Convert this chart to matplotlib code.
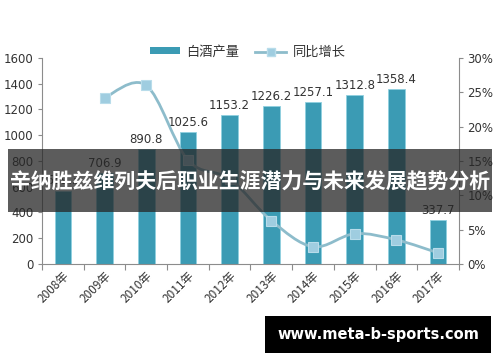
import matplotlib
matplotlib.use("Agg")
import matplotlib.pyplot as plt
from matplotlib.path import Path
from matplotlib.patches import PathPatch, Rectangle
from matplotlib.lines import Line2D
import numpy as np

plt.rcParams['font.family'] = ['Noto Sans CJK SC', 'DejaVu Sans']

years = ['2008年', '2009年', '2010年', '2011年', '2012年', '2013年', '2014年', '2015年', '2016年', '2017年']
production = [569.3, 706.9, 890.8, 1025.6, 1153.2, 1226.2, 1257.1, 1312.8, 1358.4, 337.7]
growth_years_idx = [1, 2, 3, 4, 5, 6, 7, 8, 9]
growth = [24.2, 26.0, 15.1, 12.4, 6.3, 2.5, 4.4, 3.5, 1.6]

title = '辛纳胜兹维列夫后职业生涯潜力与未来发展趋势分析'
watermark = 'www.meta-b-sports.com'

bar_color = '#3b9bb4'
line_color = '#8dbccb'
marker_color = '#9fcde0'
text_color = '#333333'
axis_color = '#8c8c8c'

fig = plt.figure(figsize=(5, 3.62), dpi=100)
ax = fig.add_axes([0.084, 0.271, 0.834, 0.569])
ax2 = ax.twinx()

x = np.arange(len(years))
ax.bar(x, production, width=0.4, color=bar_color, edgecolor='#8fd0e0', linewidth=0.6, zorder=2)
for xi, v in zip(x, production):
    ax.text(xi, v + 25, f'{v:.1f}', ha='center', va='bottom', fontsize=8.5, color=text_color,
            family=['DejaVu Sans'])

ax.set_xlim(-0.5, len(years) - 0.5)
ax.set_ylim(0, 1600)
ax.set_yticks(range(0, 1601, 200))
ax.set_yticklabels([str(v) for v in range(0, 1601, 200)], fontsize=8.5, color=text_color,
                   family=['DejaVu Sans'])
ax.set_xticks(np.arange(-0.5, len(years), 1.0))
ax.set_xticklabels([])
ax.set_xticks(x, minor=True)
ax.set_xticklabels(years, minor=True, rotation=45, ha='right', rotation_mode='anchor',
                   fontsize=8.5, color=text_color)
ax.tick_params(axis='x', which='minor', length=0, pad=4)
ax.tick_params(axis='x', which='major', length=4, color=axis_color, direction='out')
ax.tick_params(axis='y', length=3, color=axis_color, direction='out', pad=3)
for s in ['top', 'right']:
    ax.spines[s].set_visible(False)
for s in ['left', 'bottom']:
    ax.spines[s].set_color(axis_color)
    ax.spines[s].set_linewidth(0.8)

# growth line (smoothed through data points with Catmull-Rom Bezier)
gx = np.array(growth_years_idx, dtype=float)
gy = np.array(growth, dtype=float)
pts = np.column_stack([gx, gy])
verts = [tuple(pts[0])]
codes = [Path.MOVETO]
n = len(pts)
for i in range(n - 1):
    p0 = pts[i - 1] if i > 0 else pts[i]
    p1 = pts[i]
    p2 = pts[i + 1]
    p3 = pts[i + 2] if i + 2 < n else pts[i + 1]
    c1 = p1 + (p2 - p0) / 6.0
    c2 = p2 - (p3 - p1) / 6.0
    verts += [tuple(c1), tuple(c2), tuple(p2)]
    codes += [Path.CURVE4, Path.CURVE4, Path.CURVE4]
ax2.add_patch(PathPatch(Path(verts, codes), facecolor='none', edgecolor=line_color, lw=2, zorder=3))
ax2.plot(gx, gy, linestyle='none', marker='s', markersize=7, markerfacecolor=marker_color,
         markeredgecolor='#b8dcea', markeredgewidth=0.8, zorder=4)
ax2.set_ylim(0, 30)
ax2.set_yticks(range(0, 31, 5))
ax2.set_yticklabels([f'{v}%' for v in range(0, 31, 5)], fontsize=8.5, color=text_color,
                    family=['DejaVu Sans'])
ax2.tick_params(axis='y', length=3, color=axis_color, direction='out', pad=3)
for s in ['top', 'left', 'bottom']:
    ax2.spines[s].set_visible(False)
ax2.spines['right'].set_color(axis_color)
ax2.spines['right'].set_linewidth(0.8)

# legend
handles = [Rectangle((0, 0), 1, 1, facecolor=bar_color, edgecolor='none'),
           Line2D([], [], color=line_color, lw=2, marker='s', markersize=6,
                  markerfacecolor=marker_color, markeredgecolor='#b8dcea')]
leg = fig.legend(handles, ['白酒产量', '同比增长'], loc='center', bbox_to_anchor=(0.495, 0.856),
                 ncol=2, frameon=False, fontsize=9.5, handlelength=2.3, handleheight=0.45,
                 columnspacing=1.2, handletextpad=0.5)
for t in leg.get_texts():
    t.set_color(text_color)

# title banner
fig.add_artist(Rectangle((0.016, 1 - 212 / 362), 0.968, 63 / 362, transform=fig.transFigure,
                         facecolor='#262626', alpha=0.75, edgecolor='none', zorder=10))
fig.text(0.5, 1 - 182 / 362, title, ha='center', va='center', fontsize=15, fontweight='bold',
         color='white', zorder=11)

# watermark box
fig.add_artist(Rectangle((265 / 500, 1 - 353 / 362), 226 / 500, 37 / 362, transform=fig.transFigure,
                         facecolor='black', edgecolor='none', zorder=10))
fig.text(378 / 500, 1 - 334.5 / 362, watermark, ha='center', va='center', fontsize=10.5,
         fontweight='bold', color='white', family=['DejaVu Sans'], zorder=11)

fig.savefig('out.png', dpi=100)
